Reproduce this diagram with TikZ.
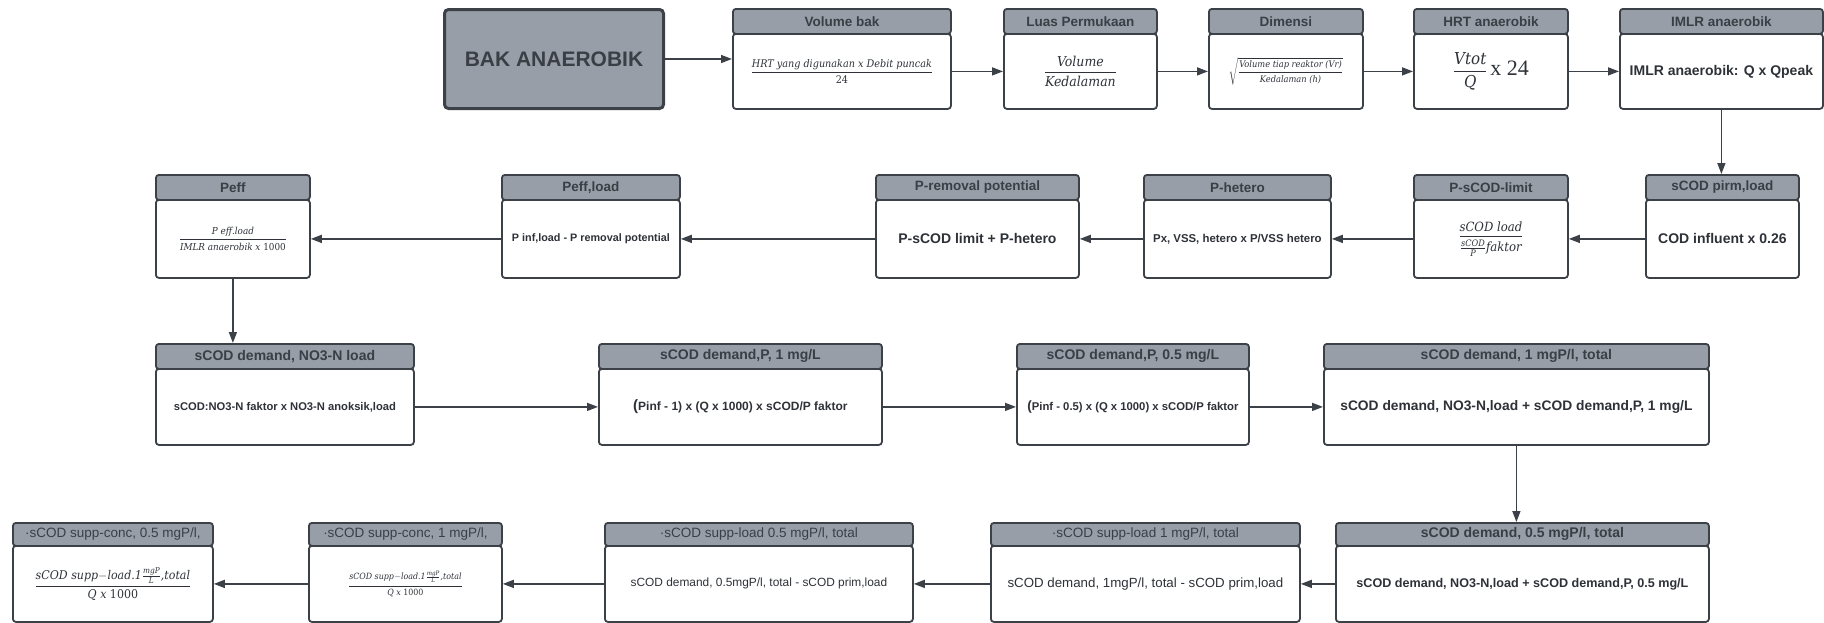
\RequirePackage{fix-cm}
\documentclass[tikz,border=0pt]{standalone}
\usepackage{amsmath}
\usepackage{fontspec}
\usetikzlibrary{arrows.meta}

\newfontfamily\hs{Liberation Sans}
\newfontfamily\rs{Liberation Serif}
\newfontfamily\mi[FakeStretch=0.92]{DejaVu Serif}

\definecolor{hdrgray}{HTML}{989EA7}
\definecolor{edge}{HTML}{3C4148}
\definecolor{ink}{HTML}{2E3238}
\definecolor{hdrink}{HTML}{3A3F46}

\newcommand{\fsz}[2]{\fontsize{#1}{#2}\selectfont}
% formula helpers: italic / upright formula text, display and inline fractions
\newcommand{\mt}[1]{\text{\mi\itshape #1}}
\newcommand{\mr}[1]{\text{\mi #1}}
\newcommand{\fr}[2]{\genfrac{}{}{0.9pt}{0}{#1}{#2}}
\newcommand{\sfr}[2]{\genfrac{}{}{0.6pt}{1}{#1}{#2}}

% header strip + body box: style, name, x1, x2, ytop, ysplit, ybottom, title, content
\newcommand{\mkbox}[9]{%
  \node[hdr,#1,minimum width={#4-#3},minimum height={#6-#5},anchor=north west] (#2-h) at (#3,#5) {#8};
  \node[bdy,minimum width={#4-#3},minimum height={#7-#6},anchor=north west] (#2) at (#3,#6) {#9};
}

\tikzset{
  hdr/.style={draw=edge, fill=hdrgray, line width=1.8pt, rounded corners=3pt, inner sep=0pt, text=hdrink},
  hdrA/.style={font=\hs\bfseries\fsz{13.5}{16}},
  hdrB/.style={font=\hs\bfseries\fsz{14}{17}},
  hdrC/.style={font=\hs\fsz{13.5}{16}},
  bdy/.style={draw=edge, fill=white, line width=1.8pt, rounded corners=3pt, inner sep=2pt, align=center, text=ink},
  arr/.style={draw=edge, line width=1.5pt, -{Triangle[length=11pt,width=8pt]}},
}

\begin{document}
\begin{tikzpicture}[x=1pt,y=-1pt]
\useasboundingbox (0,0) rectangle (1824,622);

% ---- row 1
\node[draw=edge, fill=hdrgray, line width=3pt, rounded corners=4pt,
      minimum width=219, minimum height=99, anchor=north west,
      font=\hs\bfseries\fsz{21}{24}, text=hdrink] (bak) at (443,8) {BAK ANAEROBIK};

\mkbox{hdrA}{vol}{732}{950}{8}{33}{108}{Volume bak}
  {\raisebox{7pt}{\fsz{10.5}{13}$\fr{\mt{HRT yang digunakan x Debit puncak}}{\mr{24}}$}}
\mkbox{hdrA}{luas}{1003}{1156}{8}{33}{108}{Luas Permukaan}
  {\fsz{13.6}{16}$\fr{\mt{Volume}}{\mt{Kedalaman}}$}
\mkbox{hdrA}{dim}{1208}{1362}{8}{33}{108}{Dimensi}
  {\fsz{9}{11}$\sqrt{\fr{\mt{Volume tiap reaktor (Vr)}}{\mt{Kedalaman (h)}}}$}
\mkbox{hdrA}{hrt}{1413}{1567}{8}{33}{108}{HRT anaerobik}
  {\fsz{16.4}{19}$\fr{\mt{Vtot}}{\mt{Q}}$\,{\rs\fsz{22}{24}x 24}}
\mkbox{hdrA}{imlr}{1619}{1822}{8}{33}{108}{IMLR anaerobik}
  {\hs\bfseries\fsz{14}{17}IMLR anaerobik: Q x Qpeak}

% ---- row 2
\mkbox{hdrA}{peff}{155}{309}{174}{199}{277}{Peff}
  {\fsz{9.6}{12}$\fr{\mt{P eff.load}}{\mt{IMLR anaerobik x }\mr{1000}}$}
\mkbox{hdrA}{pel}{501}{679}{174}{199}{277}{Peff,load}
  {\hs\bfseries\fsz{10.8}{13}P inf,load - P removal potential}
\mkbox{hdrA}{prem}{875}{1078}{174}{199}{277}{P-removal potential}
  {\hs\bfseries\fsz{14}{17}P-sCOD limit + P-hetero}
\mkbox{hdrA}{phet}{1143}{1330}{174}{199}{277}{P-hetero}
  {\hs\bfseries\fsz{11.4}{14}Px, VSS, hetero x P/VSS hetero}
\mkbox{hdrA}{psl}{1413}{1567}{174}{199}{277}{P-sCOD-limit}
  {\fsz{12.7}{15}$\fr{\mt{sCOD load}}{\sfr{\mt{sCOD}}{\mt{P}}\mt{faktor}}$}
\mkbox{hdrA}{scodp}{1645}{1798}{174}{199}{277}{sCOD pirm,load}
  {\hs\bfseries\fsz{14}{17}COD influent x 0.26}

% ---- row 3
\mkbox{hdrB}{nd}{155}{413}{343}{368}{444}{sCOD demand, NO3-N load}
  {\hs\bfseries\fsz{11.2}{14}sCOD:NO3-N faktor x NO3-N anoksik,load}
\mkbox{hdrB}{pa}{598}{881}{343}{368}{444}{sCOD demand,P, 1 mg/L}
  {\hs\bfseries\fsz{12}{14}{\fsz{15}{14}(}Pinf - 1) x (Q x 1000) x sCOD/P faktor}
\mkbox{hdrB}{pb}{1016}{1248}{343}{368}{444}{sCOD demand,P, 0.5 mg/L}
  {\hs\bfseries\fsz{11.3}{13}{\fsz{13.5}{13}(}Pinf - 0.5) x (Q x 1000) x sCOD/P faktor}
\mkbox{hdrB}{ta}{1323}{1708}{343}{368}{444}{sCOD demand, 1 mgP/l, total}
  {\hs\bfseries\fsz{13.8}{16}sCOD demand, NO3-N,load + sCOD demand,P, 1 mg/L}

% ---- row 4
\mkbox{hdrC}{ca}{12}{212}{522}{545}{621}{·sCOD supp-conc, 0.5 mgP/l,}
  {\fsz{12}{14}$\fr{\mt{sCOD supp}{-}\mt{load.1}\sfr{\mt{mgP}}{\mt{L}}\mt{,total}}{\mt{Q x }\mr{1000}}$}
\mkbox{hdrC}{cb}{308}{501}{522}{545}{621}{·sCOD supp-conc, 1 mgP/l,}
  {\fsz{8.6}{11}$\fr{\mt{sCOD supp}{-}\mt{load.1}\sfr{\mt{mgP}}{\mt{L}}\mt{,total}}{\mt{Q x }\mr{1000}}$}
\mkbox{hdrC}{la}{604}{912}{522}{545}{621}{·sCOD supp-load 0.5 mgP/l, total}
  {\hs\fsz{11.9}{14}sCOD demand, 0.5mgP/l, total - sCOD prim,load}
\mkbox{hdrC}{lb}{990}{1299}{522}{545}{621}{·sCOD supp-load 1 mgP/l, total}
  {\hs\fsz{13.3}{16}sCOD demand, 1mgP/l, total - sCOD prim,load}
\mkbox{hdrB}{tb}{1335}{1708}{522}{545}{621}{sCOD demand, 0.5 mgP/l, total}
  {\hs\bfseries\fsz{12.6}{15}sCOD demand, NO3-N,load + sCOD demand,P, 0.5 mg/L}

% ---- connectors
\draw[arr] (bak.east) -- (bak.east -| vol.west);
\draw[arr] (vol.east) -- (luas.west);
\draw[arr] (luas.east) -- (dim.west);
\draw[arr] (dim.east) -- (hrt.west);
\draw[arr] (hrt.east) -- (imlr.west);
\draw[arr] (imlr.south) -- (imlr.south |- scodp-h.north);
\draw[arr] (scodp.west) -- (psl.east);
\draw[arr] (psl.west) -- (phet.east);
\draw[arr] (phet.west) -- (prem.east);
\draw[arr] (prem.west) -- (pel.east);
\draw[arr] (pel.west) -- (peff.east);
\draw[arr] (peff.south) -- (peff.south |- nd-h.north);
\draw[arr] (nd.east) -- (pa.west);
\draw[arr] (pa.east) -- (pb.west);
\draw[arr] (pb.east) -- (ta.west);
\draw[arr] (ta.south) -- (ta.south |- tb-h.north);
\draw[arr] (tb.west) -- (lb.east);
\draw[arr] (lb.west) -- (la.east);
\draw[arr] (la.west) -- (cb.east);
\draw[arr] (cb.west) -- (ca.east);
\end{tikzpicture}
\end{document}
